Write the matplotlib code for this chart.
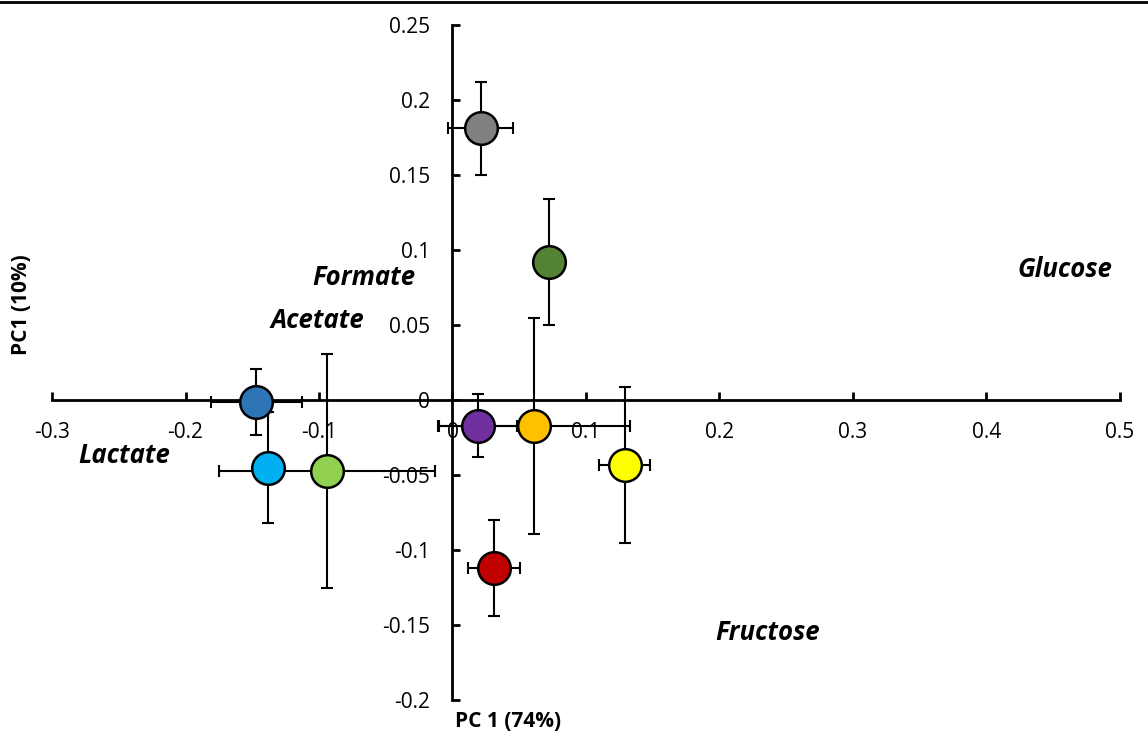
import matplotlib.pyplot as plt

plt.rcParams['font.family'] = ['Open Sans', 'DejaVu Sans']

# scores (mean) with standard deviation bars
pc1 = [0.021, 0.072, -0.147, -0.138, -0.094, 0.019, 0.061, 0.129, 0.031]
pc2 = [0.181, 0.092, -0.001, -0.045, -0.047, -0.017, -0.017, -0.043, -0.112]
pc1_err = [0.024, 0.0, 0.034, 0.011, 0.081, 0.029, 0.072, 0.019, 0.0195]
pc2_err = [0.031, 0.042, 0.022, 0.037, 0.078, 0.021, 0.072, 0.052, 0.032]
colors = ['#808080', '#548235', '#2E75B6', '#00B0F0', '#92D050',
          '#7030A0', '#FFC000', '#FFFF00', '#C00000']

# loading labels
names = ['Formate', 'Acetate', 'Lactate', 'Glucose', 'Fructose']
name_x = [-0.066, -0.101, -0.246, 0.459, 0.236]
name_y = [0.082, 0.053, -0.037, 0.087, -0.155]

fig = plt.figure(figsize=(11.48, 7.55), dpi=100)
ax = fig.add_axes([0.0453, 0.0728, 0.9303, 0.8941])

for x, y, xe, ye, c in zip(pc1, pc2, pc1_err, pc2_err, colors):
    ax.errorbar(x, y, xerr=xe if xe > 0 else None, yerr=ye, fmt='none',
                ecolor='black', elinewidth=1.5, capsize=4, capthick=1.5, zorder=2)
    ax.plot(x, y, 'o', ms=23.5, mfc=c, mec='black', mew=1.8, zorder=3)

for n, x, y in zip(names, name_x, name_y):
    ax.text(x, y, n, ha='center', va='center', fontsize=18.5,
            fontweight='bold', fontstyle='italic')

ax.set_xlim(-0.3, 0.5)
ax.set_ylim(-0.2, 0.25)
ax.set_xticks([-0.3, -0.2, -0.1, 0, 0.1, 0.2, 0.3, 0.4, 0.5])
ax.set_xticklabels(['-0.3', '-0.2', '-0.1', '0', '0.1', '0.2', '0.3', '0.4', '0.5'])
ax.set_yticks([-0.2, -0.15, -0.1, -0.05, 0, 0.05, 0.1, 0.15, 0.2, 0.25])
ax.set_yticklabels(['-0.2', '-0.15', '-0.1', '-0.05', '0', '0.05', '0.1', '0.15', '0.2', '0.25'])

ax.spines['left'].set_position(('data', 0))
ax.spines['bottom'].set_position(('data', 0))
ax.spines['right'].set_visible(False)
ax.spines['top'].set_visible(False)
for s in ('left', 'bottom'):
    ax.spines[s].set_linewidth(2)
ax.tick_params(direction='in', length=6, width=2, labelsize=15, pad=16)
ax.patch.set_visible(False)

fig.text(0.4425, 0.045, 'PC 1 (74%)', ha='center', va='center',
         fontsize=15, fontweight='bold')
fig.text(0.019, 0.596, 'PC1 (10%)', ha='center', va='center',
         fontsize=15, fontweight='bold', rotation=90)

fig.add_artist(plt.Line2D([0, 1], [0.998, 0.998], color='black', lw=2))

fig.savefig('out.png', dpi=100)
